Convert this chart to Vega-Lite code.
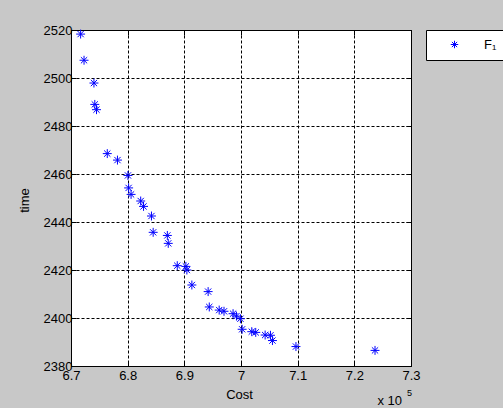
{
  "$schema": "https://vega.github.io/schema/vega-lite/v6.json",
  "width": 340,
  "height": 336,
  "autosize": {"type": "none"},
  "padding": {"left": 71, "top": 30, "right": 92, "bottom": 42},
  "background": "#c8c8c8",
  "config": {
    "view": {"fill": "white", "stroke": "black", "strokeWidth": 1},
    "font": "Liberation Sans"
  },
  "resolve": {"axis": {"x": "independent", "y": "independent"}},
  "layer": [
    {
      "data": {
        "values": [
          {"cost": 671700, "time": 2518.3},
          {"cost": 672300, "time": 2507.4},
          {"cost": 674050, "time": 2497.9},
          {"cost": 674200, "time": 2489.0},
          {"cost": 674500, "time": 2486.8},
          {"cost": 676400, "time": 2468.5},
          {"cost": 678200, "time": 2465.8},
          {"cost": 680050, "time": 2459.4},
          {"cost": 680170, "time": 2454.2},
          {"cost": 680600, "time": 2451.5},
          {"cost": 682300, "time": 2448.75},
          {"cost": 682800, "time": 2446.5},
          {"cost": 684200, "time": 2442.5},
          {"cost": 684500, "time": 2435.7},
          {"cost": 687000, "time": 2434.4},
          {"cost": 687160, "time": 2431.1},
          {"cost": 688750, "time": 2421.8},
          {"cost": 690270, "time": 2421.5},
          {"cost": 690450, "time": 2420.0},
          {"cost": 691330, "time": 2413.75},
          {"cost": 694200, "time": 2411.0},
          {"cost": 694400, "time": 2404.6},
          {"cost": 696150, "time": 2403.3},
          {"cost": 697000, "time": 2402.8},
          {"cost": 698600, "time": 2401.8},
          {"cost": 699200, "time": 2400.8},
          {"cost": 699900, "time": 2399.7},
          {"cost": 700200, "time": 2395.3},
          {"cost": 701900, "time": 2394.3},
          {"cost": 702600, "time": 2394.0},
          {"cost": 704260, "time": 2392.9},
          {"cost": 705200, "time": 2392.8},
          {"cost": 705550, "time": 2390.6},
          {"cost": 709700, "time": 2388.1},
          {"cost": 723650, "time": 2386.5}
        ]
      },
      "mark": {
        "type": "point",
        "shape": "M-1,0L1,0M0,-1L0,1M-0.7,-0.7L0.7,0.7M-0.7,0.7L0.7,-0.7",
        "filled": false,
        "size": 80,
        "strokeWidth": 1,
        "opacity": 1
      },
      "encoding": {
        "x": {
          "field": "cost",
          "type": "quantitative",
          "scale": {"domain": [670000, 730000], "nice": false, "zero": false},
          "axis": {
            "orient": "bottom",
            "values": [670000, 680000, 690000, 700000, 710000, 720000, 730000],
            "labelExpr": "format(datum.value / 100000, '.1~f')",
            "labelFontSize": 13,
            "labelColor": "black",
            "labelPadding": 8,
            "labelFlush": false,
            "labelOverlap": false,
            "domain": false,
            "tickSize": -5,
            "tickColor": "black",
            "grid": true,
            "gridColor": "black",
            "gridOpacity": 1,
            "gridDash": [3, 2],
            "gridWidth": 1,
            "title": "Cost",
            "titleFontSize": 13,
            "titleFontWeight": "normal",
            "titleColor": "black",
            "titleX": 168,
            "titleY": 28,
            "titleBaseline": "middle",
            "titleAlign": "center"
          }
        },
        "y": {
          "field": "time",
          "type": "quantitative",
          "scale": {"domain": [2380, 2520], "nice": false, "zero": false},
          "axis": {
            "orient": "left",
            "values": [2380, 2400, 2420, 2440, 2460, 2480, 2500, 2520],
            "format": "d",
            "labelFontSize": 13,
            "labelColor": "black",
            "labelPadding": 4,
            "labelFlush": false,
            "labelOverlap": false,
            "domain": false,
            "tickSize": -5,
            "tickColor": "black",
            "grid": true,
            "gridColor": "black",
            "gridOpacity": 1,
            "gridDash": [3, 2],
            "gridWidth": 1,
            "title": "time",
            "titleFontSize": 13,
            "titleFontWeight": "normal",
            "titleColor": "black",
            "titleX": -47,
            "titleY": 170,
            "titleAngle": -90,
            "titleBaseline": "middle",
            "titleAlign": "center"
          }
        },
        "color": {
          "datum": "F₁",
          "type": "nominal",
          "scale": {"domain": ["F₁"], "range": ["#0000ff"]},
          "legend": {
            "orient": "none",
            "legendX": 355,
            "legendY": 0,
            "title": null,
            "fillColor": "white",
            "strokeColor": "black",
            "padding": 8,
            "symbolType": "M-1,0L1,0M0,-1L0,1M-0.7,-0.7L0.7,0.7M-0.7,0.7L0.7,-0.7",
            "symbolSize": 56,
            "symbolStrokeWidth": 1,
            "symbolFillColor": "transparent",
            "symbolStrokeColor": "#0000ff",
            "symbolOffset": 14,
            "labelOffset": 23,
            "labelFontSize": 13,
            "labelColor": "black",
            "labelLimit": 200
          }
        }
      }
    },
    {
      "data": {"values": [{"label": "x 10"}]},
      "mark": {"type": "text", "align": "right", "baseline": "alphabetic", "dx": -9, "dy": 39, "fontSize": 13, "color": "black"},
      "encoding": {
        "x": {"datum": 730000, "type": "quantitative", "axis": {"orient": "top", "labels": false, "grid": false, "domain": false, "tickSize": -5, "tickColor": "black", "title": null, "values": [670000, 680000, 690000, 700000, 710000, 720000, 730000]}},
        "y": {"datum": 2380, "type": "quantitative", "axis": {"orient": "right", "labels": false, "grid": false, "domain": false, "tickSize": -5, "tickColor": "black", "title": null, "values": [2380, 2400, 2420, 2440, 2460, 2480, 2500, 2520]}},
        "text": {"field": "label"}
      }
    },
    {
      "data": {"values": [{"label": "5"}]},
      "mark": {"type": "text", "align": "right", "baseline": "alphabetic", "dx": 1, "dy": 30, "fontSize": 9, "color": "black"},
      "encoding": {
        "x": {"datum": 730000, "type": "quantitative", "axis": null},
        "y": {"datum": 2380, "type": "quantitative", "axis": null},
        "text": {"field": "label"}
      }
    }
  ]
}
